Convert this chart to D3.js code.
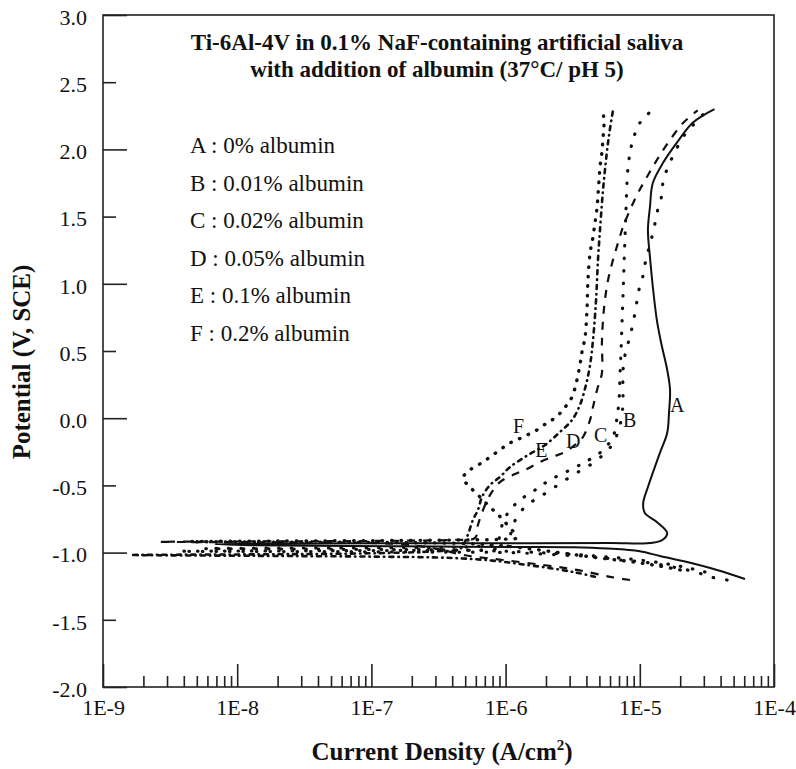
<!DOCTYPE html>
<html>
<head>
<meta charset="utf-8">
<script src="https://cdn.jsdelivr.net/npm/d3@7"></script>
<style>
  body { margin: 0; background: #fff; }
  text { font-family: "Liberation Serif", "Times New Roman", serif; fill: #111; }
</style>
</head>
<body>
<div class="canvas"></div>
<script>
// tick values
const yTicks = [-2, -1.5, -1, -0.5, 0, 0.5, 1, 1.5, 2, 2.5, 3];
const xDecades = [1e-9, 1e-8, 1e-7, 1e-6, 1e-5, 1e-4];
const xDecadeLabels = ["1E-9", "1E-8", "1E-7", "1E-6", "1E-5", "1E-4"];

const titleLines = [
  "Ti-6Al-4V in 0.1% NaF-containing artificial saliva",
  "with addition of albumin (37°C/ pH 5)",
];
const legendLabels = [
  "A : 0% albumin",
  "B : 0.01% albumin",
  "C : 0.02% albumin",
  "D : 0.05% albumin",
  "E : 0.1% albumin",
  "F : 0.2% albumin",
];

// curves: [current density (A/cm2), potential (V)]
const curveA = [
  [6.08e-5, -1.196], [3.76e-5, -1.129], [2.25e-5, -1.07], [1.41e-5, -1.025], [1.0e-5, -0.99],
  [5.8e-6, -0.97], [3.2e-6, -0.96], [1.28e-6, -0.958], [3.2e-7, -0.955], [6.9e-8, -0.95],
  [1.25e-8, -0.945], [6.8e-9, -0.937], [3e-8, -0.932], [2e-7, -0.93], [1.5e-6, -0.93],
  [6e-6, -0.929], [1.25e-5, -0.927], [1.5e-5, -0.9], [1.6e-5, -0.854], [1.34e-5, -0.772],
  [1.09e-5, -0.705], [1.06e-5, -0.631], [1.15e-5, -0.512], [1.41e-5, -0.26], [1.6e-5, -0.11],
  [1.65e-5, 0.04], [1.68e-5, 0.21], [1.6e-5, 0.36], [1.45e-5, 0.55], [1.34e-5, 0.73],
  [1.25e-5, 0.98], [1.19e-5, 1.2], [1.15e-5, 1.4], [1.19e-5, 1.57], [1.25e-5, 1.75],
  [1.49e-5, 1.9], [1.89e-5, 2.05], [2.49e-5, 2.2], [3.6e-5, 2.3],
];
const curveB = [
  [4.47e-5, -1.204], [3.33e-5, -1.18], [2.6e-5, -1.144], [1.62e-5, -1.1], [1.06e-5, -1.07],
  [7.1e-6, -1.055], [4.8e-6, -1.033], [2.54e-6, -1.018], [1.08e-6, -1.0], [3e-7, -0.996],
  [5e-8, -0.993], [3.75e-9, -0.99], [5e-8, -0.986], [3e-7, -0.982], [8e-7, -0.975],
  [1.05e-6, -0.95], [1.08e-6, -0.891], [1.12e-6, -0.81], [1.22e-6, -0.735], [1.44e-6, -0.646],
  [1.8e-6, -0.586], [2.33e-6, -0.512], [3.18e-6, -0.423], [4.26e-6, -0.348], [5.32e-6, -0.274],
  [6.21e-6, -0.199], [6.88e-6, -0.103], [7.37e-6, 0.024], [7.5e-6, 0.173], [7.5e-6, 0.359],
  [7.9e-6, 0.507], [8.45e-6, 0.604], [8.89e-6, 0.708], [9.37e-6, 0.82], [9.7e-6, 0.932],
  [1.04e-5, 1.028], [1.09e-5, 1.14], [1.15e-5, 1.237], [1.23e-5, 1.348], [1.3e-5, 1.452],
  [1.37e-5, 1.564], [1.46e-5, 1.661], [1.49e-5, 1.757], [1.62e-5, 1.869], [1.83e-5, 1.981],
  [2.1e-5, 2.092], [2.49e-5, 2.18], [3.17e-5, 2.29],
];
const curveC = [
  [3.06e-5, -1.144], [2.2e-5, -1.11], [1.4e-5, -1.075], [8e-6, -1.045], [4e-6, -1.02],
  [1.8e-6, -1.0], [7e-7, -0.985], [2e-7, -0.978], [3e-8, -0.974], [5.75e-9, -0.97],
  [3e-8, -0.966], [2e-7, -0.962], [6e-7, -0.955], [8.5e-7, -0.94], [8.77e-7, -0.921],
  [9.08e-7, -0.869], [9.57e-7, -0.772], [1.08e-6, -0.683], [1.28e-6, -0.609], [1.66e-6, -0.534],
  [2.14e-6, -0.46], [3.02e-6, -0.385], [3.91e-6, -0.326], [4.8e-6, -0.274], [5.5e-6, -0.222],
  [6.31e-6, -0.14], [6.76e-6, 0.0], [7.0e-6, 0.135], [7.12e-6, 0.32], [7.25e-6, 0.507],
  [7.37e-6, 0.708], [7.5e-6, 0.917], [7.62e-6, 1.125], [7.76e-6, 1.348], [7.89e-6, 1.549],
  [8.03e-6, 1.757], [8.17e-6, 1.862], [8.45e-6, 1.973], [8.89e-6, 2.07], [1.0e-5, 2.196],
  [1.23e-5, 2.29],
];
const curveD = [
  [8.45e-6, -1.204], [6.0e-6, -1.18], [3.4e-6, -1.129], [1.9e-6, -1.092], [9.57e-7, -1.055],
  [5e-7, -1.02], [3e-7, -0.97], [1.5e-7, -0.935], [3e-8, -0.925], [2.66e-9, -0.92],
  [3e-8, -0.916], [1.5e-7, -0.912], [4e-7, -0.905], [5.92e-7, -0.89], [6.22e-7, -0.795],
  [6.79e-7, -0.683], [7.66e-7, -0.571], [9.08e-7, -0.475], [1.175e-6, -0.415], [1.44e-6, -0.378],
  [1.8e-6, -0.326], [2.33e-6, -0.281], [2.77e-6, -0.2515], [3.29e-6, -0.199], [3.77e-6, -0.14],
  [4.26e-6, -0.013], [4.48e-6, 0.083], [4.8e-6, 0.21], [5.22e-6, 0.336], [5.22e-6, 0.56],
  [5.32e-6, 0.731], [5.5e-6, 0.879], [5.8e-6, 1.028], [6.31e-6, 1.177], [6.88e-6, 1.304],
  [7.5e-6, 1.423], [8.45e-6, 1.549], [9.7e-6, 1.676], [1.13e-5, 1.795], [1.34e-5, 1.921],
  [1.62e-5, 2.048], [2.1e-5, 2.196], [2.7e-5, 2.29],
];
const curveE = [
  [4.63e-6, -1.18], [3.4e-6, -1.15], [2.3e-6, -1.12], [1.4e-6, -1.09], [8e-7, -1.06],
  [4e-7, -1.04], [1e-7, -1.03], [2e-8, -1.025], [1.67e-9, -1.018], [2e-8, -1.012],
  [1e-7, -1.005], [3e-7, -0.99], [4.6e-7, -0.97], [5.15e-7, -0.884], [5.71e-7, -0.757],
  [6.22e-7, -0.683], [6.67e-7, -0.586], [7.66e-7, -0.497], [9.08e-7, -0.4375], [1.08e-6, -0.363],
  [1.47e-6, -0.274], [1.97e-6, -0.199], [2.54e-6, -0.103], [3.13e-6, -0.013], [3.58e-6, 0.098],
  [3.97e-6, 0.247], [4.26e-6, 0.396], [4.48e-6, 0.582], [4.72e-6, 0.879], [4.88e-6, 1.177],
  [5.05e-6, 1.4], [5.32e-6, 1.698], [5.6e-6, 1.921], [5.9e-6, 2.107], [6.31e-6, 2.29],
];
const curveF = [
  [2.0e-5, -1.129], [1.4e-5, -1.1], [9e-6, -1.07], [5e-6, -1.04], [2.5e-6, -1.0],
  [1.2e-6, -0.96], [6e-7, -0.935], [1.5e-7, -0.925], [2e-8, -0.922], [4.45e-9, -0.918],
  [2e-8, -0.914], [1.5e-7, -0.91], [6e-7, -0.905], [1.0e-6, -0.9], [1.2e-6, -0.89],
  [9.57e-7, -0.757], [7.66e-7, -0.661], [6.44e-7, -0.586], [5.43e-7, -0.512], [4.81e-7, -0.445],
  [5.43e-7, -0.385], [6.79e-7, -0.326], [8.63e-7, -0.2515], [1.08e-6, -0.1845], [1.35e-6, -0.14],
  [1.71e-6, -0.088], [2.03e-6, -0.036], [2.33e-6, 0.0015], [2.68e-6, 0.061], [2.92e-6, 0.113],
  [3.13e-6, 0.158], [3.29e-6, 0.225], [3.4e-6, 0.284], [3.58e-6, 0.396], [3.71e-6, 0.493],
  [3.91e-6, 0.604], [4.04e-6, 0.805], [4.11e-6, 1.028], [4.26e-6, 1.229], [4.48e-6, 1.348],
  [4.63e-6, 1.452], [4.8e-6, 1.564], [4.88e-6, 1.661], [4.97e-6, 1.772], [5.05e-6, 1.869],
  [5.22e-6, 1.981], [5.32e-6, 2.085], [5.41e-6, 2.196], [5.32e-6, 2.29],
];

// curve letters placed next to the lines (current, potential)
const curveNames = ["A", "B", "C", "D", "E", "F"];
const curveNamePos = [
  [1.68e-5, 0.046], [7.5e-6, -0.065], [4.56e-6, -0.177],
  [2.82e-6, -0.222], [1.66e-6, -0.289], [1.135e-6, -0.11],
];

// chart setup
const chartSet = { width: 796, height: 769, left: 103, right: 774, top: 15, bottom: 687 };
const serif = '"Liberation Serif", "Times New Roman", serif';

const svg = d3
  .select(".canvas")
  .append("svg")
  .attr("width", chartSet.width)
  .attr("height", chartSet.height);

const x = d3.scaleLog().domain([1e-9, 1e-4]).range([chartSet.left, chartSet.right]);
const y = d3.scaleLinear().domain([-2, 3]).range([chartSet.bottom, chartSet.top]);

svg.append("clipPath").attr("id", "plot")
  .append("rect")
  .attr("x", chartSet.left).attr("y", chartSet.top)
  .attr("width", chartSet.right - chartSet.left)
  .attr("height", chartSet.bottom - chartSet.top);

// styles per curve
const styles = [
  { data: curveA, dash: null, width: 2, cap: "butt" },
  { data: curveB, dash: "0.5,13", width: 3.2, cap: "round" },
  { data: curveC, dash: "0.5,12", width: 3.2, cap: "round" },
  { data: curveD, dash: "8,8", width: 2.2, cap: "butt" },
  { data: curveE, dash: "4,5,0.5,5", width: 2.6, cap: "round" },
  { data: curveF, dash: "0.5,9", width: 3.4, cap: "round" },
];

const line = d3
  .line()
  .x((d) => x(d[0]))
  .y((d) => y(d[1]))
  .curve(d3.curveCatmullRom.alpha(0.5));

svg.append("g")
  .attr("clip-path", "url(#plot)")
  .selectAll("path")
  .data(styles)
  .enter()
  .append("path")
  .attr("d", (d) => line(d.data))
  .attr("fill", "none")
  .attr("stroke", "#111")
  .attr("stroke-width", (d) => d.width)
  .attr("stroke-linecap", (d) => d.cap)
  .attr("stroke-linejoin", "round")
  .attr("stroke-dasharray", (d) => d.dash);

// frame
svg.append("rect")
  .attr("x", chartSet.left).attr("y", chartSet.top)
  .attr("width", chartSet.right - chartSet.left)
  .attr("height", chartSet.bottom - chartSet.top)
  .attr("fill", "none")
  .attr("stroke", "#222")
  .attr("stroke-width", 1.6);

// y axis (ticks inside)
const yAxis = svg.append("g")
  .attr("transform", `translate(${chartSet.left},0)`)
  .call(d3.axisLeft(y).tickValues(yTicks).tickSize(-13).tickPadding(16)
    .tickFormat((d) => d3.format(".1f")(d).replace("−", "-")));
yAxis.select(".domain").remove();
yAxis.selectAll(".tick line")
  .attr("x2", (d) => (Number.isInteger(d) ? 24 : 13))
  .attr("stroke", "#222")
  .attr("stroke-width", 1.6);
yAxis.selectAll(".tick text")
  .style("font-family", serif)
  .style("font-size", "22px")
  .attr("fill", "#111")
  .attr("dy", "0.42em");

// x axis (log, minor ticks)
const xMinor = [];
xDecades.slice(0, -1).forEach((dec) => {
  for (let k = 2; k <= 9; k++) xMinor.push(dec * k);
});
const xAll = xDecades.concat(xMinor);
const isDecade = (d) => xDecades.some((v) => Math.abs(v - d) / v < 1e-6);
const xAxis = svg.append("g")
  .attr("transform", `translate(0,${chartSet.bottom})`)
  .call(d3.axisBottom(x).tickValues(xAll).tickSize(-11).tickPadding(12)
    .tickFormat((d) => {
      const i = xDecades.findIndex((v) => Math.abs(v - d) / v < 1e-6);
      return i >= 0 ? xDecadeLabels[i] : "";
    }));
xAxis.select(".domain").remove();
xAxis.selectAll(".tick line")
  .attr("y2", (d) => (isDecade(d) ? -23 : -11))
  .attr("stroke", "#222")
  .attr("stroke-width", 1.6);
xAxis.selectAll(".tick text")
  .style("font-family", serif)
  .style("font-size", "22px")
  .attr("fill", "#111");

// title
svg.append("g")
  .selectAll("text")
  .data(titleLines)
  .enter()
  .append("text")
  .attr("x", 437)
  .attr("y", (d, i) => 50 + i * 27)
  .attr("text-anchor", "middle")
  .attr("font-size", 23)
  .attr("font-weight", "bold")
  .text((d) => d);

// legend
svg.append("g")
  .selectAll("text")
  .data(legendLabels)
  .enter()
  .append("text")
  .attr("x", 190)
  .attr("y", (d, i) => 153 + i * 37.5)
  .attr("font-size", 23)
  .text((d) => d);

// curve letters
svg.append("g")
  .selectAll("text")
  .data(curveNames)
  .enter()
  .append("text")
  .attr("x", (d, i) => x(curveNamePos[i][0]))
  .attr("y", (d, i) => y(curveNamePos[i][1]))
  .attr("font-size", 20)
  .attr("fill", "#222")
  .text((d) => d);

// axis titles
svg.append("text")
  .attr("transform", "translate(30,362) rotate(-90)")
  .attr("text-anchor", "middle")
  .attr("font-size", 25)
  .attr("font-weight", "bold")
  .text("Potential (V, SCE)");

const xt = svg.append("text")
  .attr("x", 442)
  .attr("y", 760)
  .attr("text-anchor", "middle")
  .attr("font-size", 25)
  .attr("font-weight", "bold");
xt.append("tspan").text("Current Density (A/cm");
xt.append("tspan").attr("font-size", 15).attr("dy", -10).text("2");
xt.append("tspan").attr("dy", 10).text(")");
</script>
</body>
</html>
